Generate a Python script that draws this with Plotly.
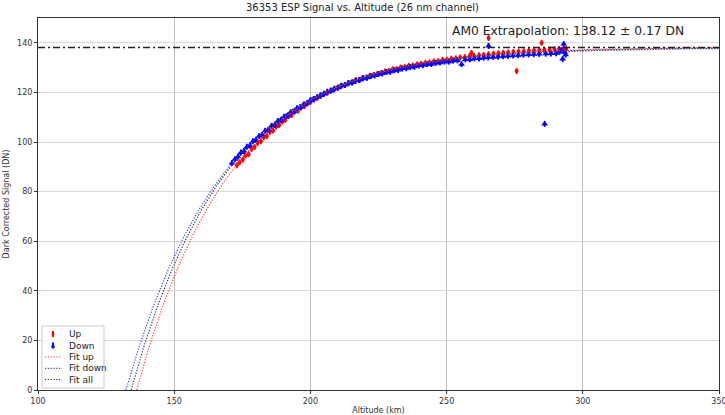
import numpy as np
import plotly.graph_objects as go

# Ascent ("Up") samples: altitude (km) and dark-corrected signal (DN)
up_alt = [173.0, 174.0, 175.2, 176.1, 177.3, 178.4, 179.5, 180.6, 181.8, 182.9,
          184.0, 185.1, 186.3, 187.4, 188.5, 189.7, 190.8, 192.0, 193.1, 194.3,
          195.4, 196.6, 197.8, 199.0, 200.2, 201.4, 202.6, 203.8, 205.0, 206.3,
          207.5, 208.8, 210.0, 211.3, 212.6, 213.9, 215.2, 216.5, 217.8, 219.1,
          220.5, 221.8, 223.2, 224.6, 226.0, 227.4, 228.8, 230.2, 231.7, 233.1,
          234.6, 236.1, 237.6, 239.1, 240.6, 242.2, 243.7, 245.3, 246.9, 248.5,
          250.1, 251.7, 253.4, 255.0, 256.7, 258.4, 259.1, 260.1, 261.9, 263.6,
          265.4, 265.4, 267.2, 269.0, 270.8, 272.6, 274.5, 275.7, 276.4, 278.3,
          280.2, 282.1, 284.0, 284.9, 285.9, 287.8, 289.6, 291.3, 292.8, 293.9]
up_sig = [90.6, 91.8, 92.9, 94.6, 95.1, 97.2, 98.0, 99.6, 100.3, 101.9,
          102.4, 104.1, 104.6, 106.2, 106.8, 108.3, 108.9, 110.4, 110.9, 112.3,
          112.6, 113.9, 114.4, 115.6, 116.3, 117.2, 117.9, 118.6, 119.5, 119.9,
          120.8, 121.2, 121.9, 122.6, 123.0, 123.7, 124.0, 124.8, 125.0, 125.8,
          126.0, 126.7, 127.0, 127.5, 127.8, 128.4, 128.6, 129.3, 129.4, 130.0,
          130.2, 130.7, 130.8, 131.3, 131.5, 131.9, 132.1, 132.5, 132.6, 133.1,
          133.2, 133.6, 133.7, 134.1, 134.2, 134.6, 135.9, 134.7, 135.0, 135.1,
          141.9, 135.4, 135.6, 135.8, 136.0, 136.1, 136.3, 128.6, 136.5, 136.6,
          136.8, 137.0, 137.1, 140.0, 137.2, 137.3, 137.4, 137.5, 137.4, 137.6]

# Descent ("Down") samples
down_alt = [171.2, 172.3, 173.4, 174.5, 175.6, 176.7, 177.8, 178.9, 180.0, 181.2,
            182.3, 183.4, 184.6, 185.7, 186.9, 188.0, 189.2, 190.4, 191.6, 192.8,
            194.0, 195.2, 196.4, 197.6, 198.8, 200.0, 201.2, 202.5, 203.7, 205.0,
            206.2, 207.5, 208.8, 210.1, 211.4, 212.7, 214.0, 215.4, 216.7, 218.1,
            219.4, 220.8, 222.2, 223.6, 225.0, 226.4, 227.9, 229.3, 230.8, 232.2,
            233.7, 235.2, 236.7, 238.2, 239.8, 241.3, 242.9, 244.4, 246.0, 247.6,
            249.2, 250.8, 252.4, 254.0, 255.5, 256.9, 258.5, 260.2, 261.9, 263.6,
            265.4, 265.3, 267.1, 268.9, 270.7, 272.5, 274.4, 276.3, 278.2, 280.1,
            282.0, 284.0, 286.0, 286.4, 288.3, 290.2, 291.5, 292.1, 292.6, 293.0,
            293.3, 293.7]
down_sig = [91.5, 93.0, 94.1, 95.8, 96.4, 98.1, 98.6, 100.3, 100.9, 102.4,
            102.9, 104.5, 104.9, 106.5, 106.9, 108.4, 108.8, 110.2, 110.6, 112.0,
            112.3, 113.7, 114.0, 115.1, 115.6, 116.8, 117.3, 118.1, 118.8, 119.4,
            120.3, 120.6, 121.5, 121.9, 122.7, 123.0, 123.8, 124.0, 124.8, 125.0,
            125.7, 125.9, 126.6, 126.8, 127.4, 127.6, 128.2, 128.3, 128.9, 129.0,
            129.6, 129.7, 130.2, 130.3, 130.8, 130.9, 131.4, 131.4, 131.9, 132.0,
            132.4, 132.4, 132.8, 132.9, 131.4, 133.3, 133.3, 133.7, 133.7, 134.0,
            138.7, 134.1, 134.3, 134.4, 134.6, 134.7, 134.9, 135.0, 135.2, 135.3,
            135.4, 135.5, 107.3, 135.6, 135.7, 135.8, 136.4, 137.0, 133.5, 139.5,
            136.2, 135.2]

# Saturation-model fit parameters: S = amp * (1 - exp(-(z - z0) / h))
fit_names = ["Fit up", "Fit down", "Fit all"]
fit_colors = ["#ff3b3b", "#3b3bff", "#333333"]
fit_amp = [138.4, 138.0, 138.12]
fit_z0 = [136.2, 132.3, 134.2]
fit_h = [34.4, 35.8, 34.6]

am0_value = 138.12
am0_err = 0.17

UP_COLOR = "#ff0000"
DOWN_COLOR = "#0000ff"
FIT_DASH = "1.2px,1.6px"

fig = go.Figure()

fig.add_trace(go.Scatter(
    x=up_alt, y=up_sig, mode="markers", name="Up",
    marker=dict(symbol="circle", size=4, color=UP_COLOR, line=dict(width=0)),
    error_y=dict(type="constant", value=1.2, color=UP_COLOR, thickness=1.8, width=0),
))
fig.add_trace(go.Scatter(
    x=down_alt, y=down_sig, mode="markers", name="Down",
    marker=dict(symbol="triangle-up", size=6, color=DOWN_COLOR, line=dict(width=0)),
    error_y=dict(type="constant", value=1.2, color=DOWN_COLOR, thickness=1.8, width=0),
))

for name, col, a, z0, h in zip(fit_names, fit_colors, fit_amp, fit_z0, fit_h):
    z = np.linspace(z0, 350, 300)
    s = a * (1 - np.exp(-(z - z0) / h))
    fig.add_trace(go.Scatter(
        x=z, y=s, mode="lines", name=name,
        line=dict(color=col, width=1.2, dash=FIT_DASH),
    ))

# AM0 extrapolated level
fig.add_shape(type="line", xref="paper", x0=0, x1=1, yref="y", y0=am0_value, y1=am0_value,
              line=dict(color="#222222", width=1.5, dash="7px,3px,2px,3px"))

fig.add_annotation(
    x=0.952, xref="paper", y=144.8, yref="y", xanchor="right", yanchor="middle",
    text=f"AM0 Extrapolation: {am0_value:.2f} \u00b1 {am0_err:.2f} DN",
    showarrow=False, font=dict(family="DejaVu Sans", size=12.3, color="#222222"),
)

# ---- compact legend box (lower-left corner of the axes) ----
W, H = 725, 415
ML, MR, MT, MB = 38, 6, 18, 25
PW, PH = W - ML - MR, H - MT - MB


def px(xp):
    return (xp - ML) / PW


def py(yp):
    return (H - MB - yp) / PH


fig.add_shape(type="rect", xref="paper", yref="paper",
              x0=px(42), x1=px(104), y0=py(388), y1=py(326),
              line=dict(color="#cccccc", width=1), fillcolor="rgba(255,255,255,0.85)")

legend_rows = [334, 345.5, 357, 368.3, 379.5]
legend_labels = ["Up", "Down"] + fit_names
for row, label in zip(legend_rows, legend_labels):
    fig.add_annotation(x=px(67), y=py(row), xref="paper", yref="paper",
                       xanchor="left", yanchor="middle", text=label, showarrow=False,
                       font=dict(family="DejaVu Sans", size=9, color="#222222"))

# Up glyph: dot with a short vertical bar
r0 = legend_rows[0]
fig.add_shape(type="line", xref="paper", yref="paper", x0=px(53), x1=px(53),
              y0=py(r0 + 3), y1=py(r0 - 3), line=dict(color=UP_COLOR, width=2))
fig.add_shape(type="circle", xref="paper", yref="paper", x0=px(51.5), x1=px(54.5),
              y0=py(r0 + 1.5), y1=py(r0 - 1.5), line=dict(width=0), fillcolor=UP_COLOR)
# Down glyph: small triangle with a short vertical bar
r1 = legend_rows[1]
fig.add_shape(type="line", xref="paper", yref="paper", x0=px(53), x1=px(53),
              y0=py(r1 + 3), y1=py(r1 - 3), line=dict(color=DOWN_COLOR, width=2))
fig.add_shape(type="path", xref="paper", yref="paper",
              path=f"M {px(50.8)} {py(r1 + 2)} L {px(55.2)} {py(r1 + 2)} L {px(53)} {py(r1 - 2.5)} Z",
              line=dict(width=0), fillcolor=DOWN_COLOR)
# Fit glyphs: short dotted segments
for row, col in zip(legend_rows[2:], fit_colors):
    fig.add_shape(type="line", xref="paper", yref="paper", x0=px(45), x1=px(62),
                  y0=py(row), y1=py(row), line=dict(color=col, width=1.2, dash=FIT_DASH))

fig.update_layout(
    width=W, height=H,
    margin=dict(l=ML, r=MR, t=MT, b=MB, autoexpand=False),
    paper_bgcolor="white", plot_bgcolor="white",
    title=dict(text="36353 ESP Signal vs. Altitude (26 nm channel)",
               x=0.5, xanchor="center", y=0.99, yanchor="top",
               font=dict(family="DejaVu Sans", size=10, color="#222222")),
    font=dict(family="DejaVu Sans", size=8, color="#333333"),
    showlegend=False,
)

fig.update_xaxes(
    range=[100, 350], tickvals=[100, 150, 200, 250, 300, 350],
    showgrid=True, gridcolor="#bdbdbd", gridwidth=1,
    showline=True, linecolor="#333333", linewidth=1, mirror=True,
    ticks="outside", ticklen=3, tickcolor="#333333",
    zeroline=False, automargin=False, ticklabeloverflow="allow",
    title=dict(text="Altitude (km)", standoff=4, font=dict(size=8)),
)
fig.update_yaxes(
    range=[0, 150], tickvals=[0, 20, 40, 60, 80, 100, 120, 140],
    showgrid=True, gridcolor="#d8d8d8", gridwidth=1,
    showline=True, linecolor="#333333", linewidth=1, mirror=True,
    ticks="outside", ticklen=3, tickcolor="#333333",
    zeroline=False, automargin=False,
    title=dict(text="Dark Corrected Signal (DN)", standoff=6, font=dict(size=8)),
)

fig.write_html("out.html")
